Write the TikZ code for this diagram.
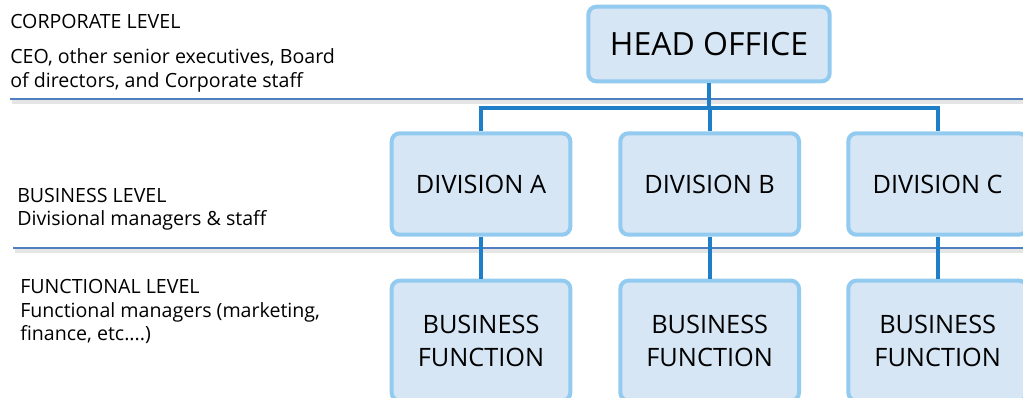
\documentclass[tikz,border=0pt]{standalone}
\usepackage{fontspec}
\setmainfont{Open Sans}
\usepackage{tikz}
\usetikzlibrary{positioning}
\definecolor{orgfill}{RGB}{214,230,245}
\definecolor{orgedge}{RGB}{146,203,239}
\definecolor{orglink}{RGB}{30,127,200}
\definecolor{orgsep}{RGB}{79,127,192}
\tikzstyle{unitbox} = [rectangle, rounded corners=6pt, minimum width=134pt, minimum height=76pt, align=center, draw=orgedge, fill=orgfill, line width=3pt, font=\fontsize{19}{25}\selectfont]
\tikzstyle{link} = [line width=3pt, color=orglink]
\tikzstyle{sepline} = [line width=1.5pt, color=orgsep]
\tikzstyle{sepshadow} = [line width=2.5pt, color=black!10]
\tikzstyle{leveltext} = [anchor=base west, inner sep=0pt, font=\fontsize{14.7}{18}\selectfont]

\begin{document}
\begin{tikzpicture}[x=0.75pt, y=-0.75pt]
\useasboundingbox (0,0) rectangle (1023,397);

% Level separators
\draw[sepshadow] (12,102) -- (1023,102);
\draw[sepline] (10,99) -- (1023,99);
\draw[sepshadow] (15,251) -- (1023,251);
\draw[sepline] (13,248) -- (1023,248);

% Level descriptions
\node (corpT) [leveltext] at (10,28) {CORPORATE LEVEL};
\node (corpD1) [leveltext] at (10,63) {CEO, other senior executives, Board};
\node (corpD2) [leveltext] at (10,87) {of directors, and Corporate staff};
\node (busT) [leveltext] at (17,202) {BUSINESS LEVEL};
\node (busD) [leveltext] at (17,225) {Divisional managers \& staff};
\node (funT) [leveltext] at (20,293) {FUNCTIONAL LEVEL};
\node (funD1) [leveltext] at (20,317) {Functional managers (marketing,};
\node (funD2) [leveltext] at (20,340) {finance, etc....)};

% Head office and divisions
\node (head) [unitbox, minimum width=181pt, minimum height=56pt, font=\fontsize{24}{26}\selectfont] at (709,44) {HEAD OFFICE};
\node (divA) [unitbox] at (481,184) {DIVISION A};
\node (divB) [unitbox, right=34.5pt of divA] {DIVISION B};
\node (divC) [unitbox, right=34pt of divB] {DIVISION C};

% Business functions
\node (funA) [unitbox, below=31.5pt of divA, minimum height=90pt] {BUSINESS\\FUNCTION};
\node (funB) [unitbox, below=31.5pt of divB, minimum height=90pt] {BUSINESS\\FUNCTION};
\node (funC) [unitbox, below=31.5pt of divC, minimum height=90pt] {BUSINESS\\FUNCTION};

% Links
\draw[link] (head.south) -- ++(0,25) coordinate (fork);
\draw[link] (divA.north) |- (fork) -| (divC.north);
\draw[link] (fork) -- (fork -| divB.north) -- (divB.north);
\draw[link] (divA) -- (funA);
\draw[link] (divB) -- (funB);
\draw[link] (divC) -- (funC);
\end{tikzpicture}
\end{document}
